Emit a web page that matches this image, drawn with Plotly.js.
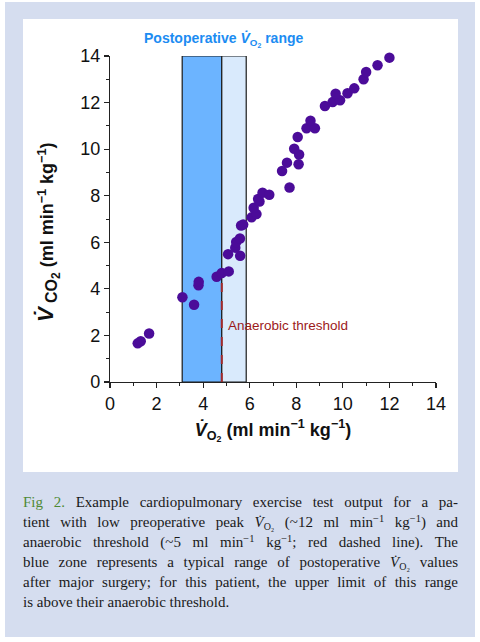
<!DOCTYPE html>
<html>
<head>
<meta charset="utf-8">
<script src="https://cdn.plot.ly/plotly-3.0.1.min.js"></script>
<style>
  html, body { margin: 0; padding: 0; background: #ffffff; width: 480px; height: 642px; overflow: hidden; }
  #panel { position: absolute; left: 5px; top: 2px; width: 470px; height: 635px; background: #D5DDEF; }
  #plot { position: absolute; left: 23px; top: 19px; width: 435px; height: 453px; background: #ffffff; }
  #caption { position: absolute; left: 23px; top: 492px; width: 435px;
    font-family: "Liberation Serif", "Times New Roman", serif; font-size: 15px; line-height: 20px; color: #1a1a1a; }
  #caption .ln { text-align: justify; text-align-last: justify; white-space: nowrap; }
  #caption .ln.last { text-align-last: left; }
  #caption .fig { color: #4F8A35; }
  #caption sup { font-size: 10.5px; line-height: 0; vertical-align: 5px; }
  #caption sub { font-size: 10px; line-height: 0; vertical-align: -3px; }
</style>
</head>
<body>
<div id="panel"></div>
<div id="plot"></div>
<div id="caption">
  <div class="ln"><span class="fig">Fig 2.</span> Example cardiopulmonary exercise test output for a pa-</div>
  <div class="ln">tient with low preoperative peak <i>V̇</i><sub>O₂</sub> (~12 ml min<sup>−1</sup> kg<sup>−1</sup>) and</div>
  <div class="ln">anaerobic threshold (~5 ml min<sup>−1</sup> kg<sup>−1</sup>; red dashed line). The</div>
  <div class="ln">blue zone represents a typical range of postoperative <i>V̇</i><sub>O₂</sub> values</div>
  <div class="ln">after major surgery; for this patient, the upper limit of this range</div>
  <div class="ln last">is above their anaerobic threshold.</div>
</div>
<script>
// ---- data ----
const vo2  = [1.19, 1.32, 1.68, 3.11, 3.61, 3.80, 3.81, 4.58, 4.80, 5.10, 5.07, 5.59, 5.38, 5.42, 5.58,
              5.63, 5.72, 6.08, 6.29, 6.17, 6.42, 6.36, 6.55, 6.84, 7.71, 7.39, 7.60, 8.10, 8.12, 7.91,
              8.06, 8.44, 8.80, 8.61, 9.23, 9.56, 9.88, 9.69, 10.20, 10.49, 10.89, 11.00, 11.49, 12.00];
const vco2 = [1.66, 1.75, 2.08, 3.64, 3.32, 4.15, 4.30, 4.52, 4.68, 4.75, 5.49, 5.42, 5.77, 6.01, 6.16,
              6.72, 6.76, 7.07, 7.21, 7.48, 7.75, 7.86, 8.13, 8.04, 8.35, 9.06, 9.42, 9.35, 9.77, 10.02,
              10.52, 10.90, 10.90, 11.22, 11.85, 12.02, 12.10, 12.38, 12.40, 12.61, 13.00, 13.31, 13.60, 13.93];
const postopRangeLow = [3.1, 4.8];     // darker blue part of the postoperative range
const postopRangeHigh = [4.8, 5.85];   // lighter blue part of the postoperative range
const anaerobicThreshold = 4.8;        // VO2 at AT
const anaerobicThresholdVco2 = 4.58;   // top of dashed line
const xTicks = [0, 2, 4, 6, 8, 10, 12, 14];
const yTicks = [0, 2, 4, 6, 8, 10, 12, 14];
const axisRange = [0, 14];

const font = "Liberation Sans, Arial, sans-serif";

const trace = {
  x: vo2, y: vco2, type: 'scatter', mode: 'markers',
  marker: { size: 10.5, color: '#4B0C99', line: { width: 0 } },
  hoverinfo: 'skip', cliponaxis: false
};

const axisCommon = {
  range: axisRange, showgrid: false, zeroline: false,
  showline: true, linecolor: '#222', linewidth: 1.2,
  ticks: 'outside', ticklen: 5, tickwidth: 1.2, tickcolor: '#222',
  minor: { dtick: 1, ticks: 'outside', ticklen: 3, tickwidth: 1, tickcolor: '#222' },
  tickfont: { family: font, size: 18, color: '#111' },
  fixedrange: true
};

const yTitle = "<b><span style='font-size:22px'><i>V̇</i></span>" +
  "<sub><span style='font-size:16px'> CO</span><sub><span style='font-size:12px'>2</span></sub></sub>" +
  " (ml min<sup>−1</sup> kg<sup>−1</sup>)</b>";

const layout = {
  width: 435, height: 453,
  margin: { l: 87, r: 22, t: 37, b: 90 },
  paper_bgcolor: '#ffffff', plot_bgcolor: '#ffffff',
  showlegend: false,
  xaxis: Object.assign({}, axisCommon, {
    tickvals: xTicks, ticktext: xTicks.map(String),
    title: { text: '<b><i>V̇</i><sub>O<sub>2</sub></sub> (ml min<sup>−1</sup> kg<sup>−1</sup>)</b>',
             font: { family: font, size: 18, color: '#111' }, standoff: 10 }
  }),
  yaxis: Object.assign({}, axisCommon, {
    tickvals: yTicks, ticktext: yTicks.map(String)
  }),
  shapes: [
    { type: 'rect', xref: 'x', yref: 'y', x0: postopRangeLow[0], x1: postopRangeLow[1], y0: axisRange[0], y1: axisRange[1],
      fillcolor: '#6CB4FF', line: { color: '#1a1a1a', width: 1.2 }, layer: 'below' },
    { type: 'rect', xref: 'x', yref: 'y', x0: postopRangeHigh[0], x1: postopRangeHigh[1], y0: axisRange[0], y1: axisRange[1],
      fillcolor: '#D9EAFC', line: { color: '#1a1a1a', width: 1.2 }, layer: 'below' },
    { type: 'line', xref: 'x', yref: 'y', x0: anaerobicThreshold, x1: anaerobicThreshold, y0: 0, y1: anaerobicThresholdVco2,
      line: { color: '#A52A2A', width: 2, dash: 'dash' }, layer: 'below' }
  ],
  annotations: [
    { xref: 'x', yref: 'paper', x: 4.9, y: 1.05, xanchor: 'center', yanchor: 'middle', showarrow: false,
      text: '<b>Postoperative <i>V̇</i><sub>O<sub>2</sub></sub> range</b>',
      font: { family: font, size: 14, color: '#1C8CF2' } },
    { xref: 'x', yref: 'y', x: 5.0, y: 2.43, xanchor: 'left', yanchor: 'middle', showarrow: false,
      text: 'Anaerobic threshold',
      font: { family: font, size: 13.5, color: '#9C1A1A' } },
    { xref: 'paper', yref: 'paper', x: -0.19, y: 0.46, xanchor: 'center', yanchor: 'middle', showarrow: false,
      textangle: -90, text: yTitle,
      font: { family: font, size: 18, color: '#111' } }
  ]
};

Plotly.newPlot('plot', [trace], layout, { displayModeBar: false, staticPlot: true });
</script>
</body>
</html>
